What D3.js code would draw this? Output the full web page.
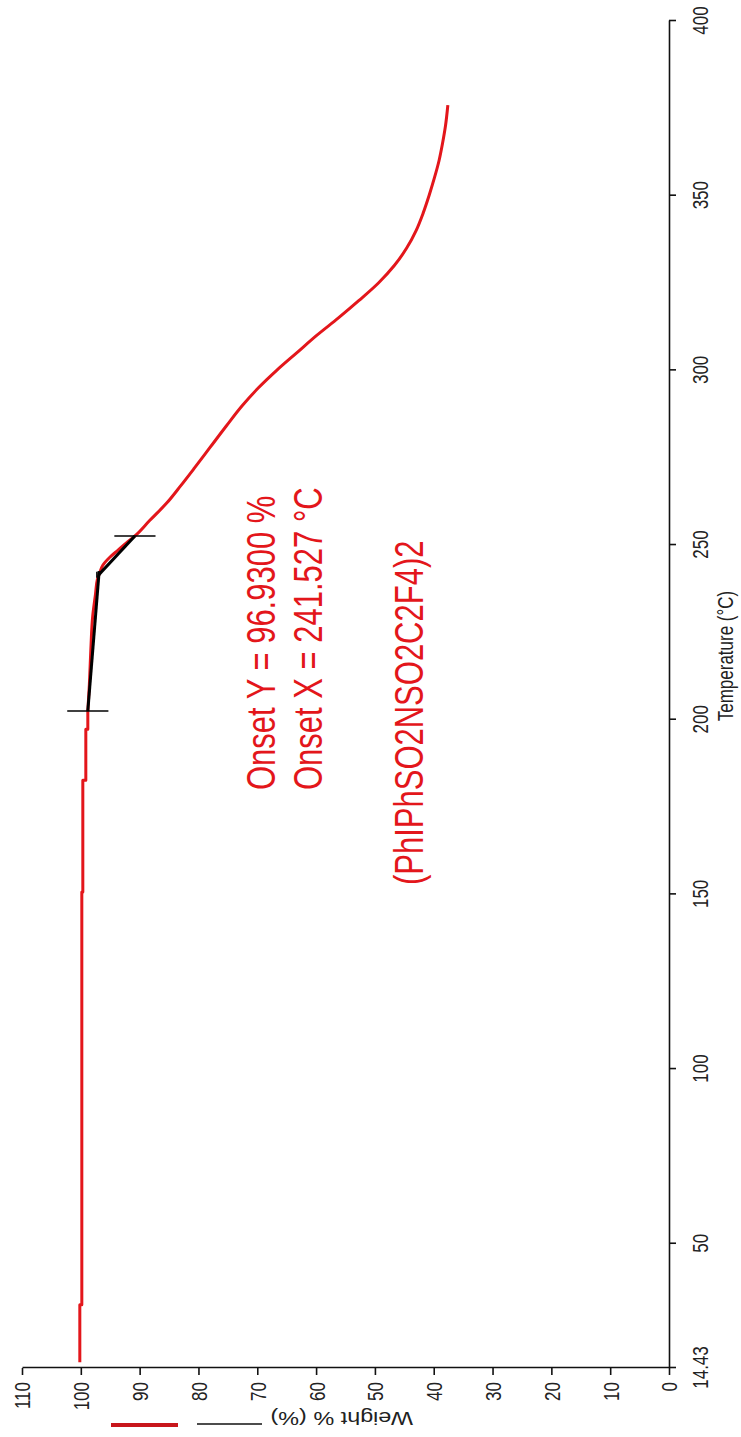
<!DOCTYPE html>
<html>
<head>
<meta charset="utf-8">
<script src="https://cdn.jsdelivr.net/npm/d3@7"></script>
<style>
  html, body { margin: 0; padding: 0; background: #fff; }
  svg { display: block; font-family: "Liberation Sans", Arial, sans-serif; }
</style>
</head>
<body>
<svg id="chart" width="741" height="1437"></svg>
<script>
// Thermogravimetric trace: remaining weight (%) against temperature (°C)
// Stepped low-temperature plateau
const plateauTemps = [16.1, 32.5, 32.5, 150.7, 150.7, 182.7, 182.7, 197.3, 197.3, 202.5];
const plateauWeights = [100.17, 100.17, 99.83, 99.83, 99.66, 99.66, 99.15, 99.15, 98.81, 98.81];
// Decomposition region
const lossTemps = [202.5, 210, 220, 230, 236, 240, 242, 244.2, 246.5, 248.5, 250.5, 252.6,
  257, 262, 267, 272, 278, 284, 290, 295, 300, 305, 310, 315, 320, 325,
  330, 335, 340, 345, 350, 355, 360, 365, 370, 375.9];
const lossWeights = [98.81, 98.55, 98.3, 97.96, 97.5, 97.2, 96.8, 96.26, 95.07, 93.7, 92.35, 90.8,
  88.3, 85.4, 83.0, 80.7, 78.0, 75.3, 72.5, 69.8, 66.7, 63.3, 59.9, 56.2, 52.7, 49.4,
  46.7, 44.6, 43.0, 41.8, 40.8, 39.9, 39.1, 38.5, 38.0, 37.6];

// Onset construction
const onsetTemp = 241.527;
const onsetWeight = 96.93;
const baselineTemps = [202.5, 242.5];
const baselineWeights = [98.81, 96.88];
const stepTemps = [241.527, 252.6];
const stepWeights = [96.93, 90.8];
const cursorTemps = [202.5, 252.6];
const cursorWeights = [98.81, 90.8];

const tempTicks = [14.43, 50, 100, 150, 200, 250, 300, 350, 400];
const weightTicks = [0, 10, 20, 30, 40, 50, 60, 70, 80, 90, 100, 110];

const annotationLines = ["Onset Y = 96.9300 %", "Onset X = 241.527 \u00B0C", "(PhIPhSO2NSO2C2F4)2"];
const tempTitle = "Temperature (\u00B0C)";
const weightTitle = "Weight % (%)";

const RED = "#e3161b";
const STRETCH = 1.3; // glyphs are drawn taller than wide

const svg = d3.select("#chart");
// The plot is laid out landscape and turned a quarter turn anticlockwise onto the page
const g = svg.append("g").attr("transform", "translate(0,1437) rotate(-90)");

const x = d3.scaleLinear().domain([14.43, 400]).range([69, 1416]);
const y = d3.scaleLinear().domain([0, 110]).range([669, 22]);

// Temperature axis
const xAxis = d3.axisBottom(x)
  .tickValues(tempTicks)
  .tickFormat(d => d === 14.43 ? "14.43" : d3.format("d")(d))
  .tickSize(7)
  .tickSizeOuter(0);
const gx = g.append("g").attr("transform", `translate(0,${y(0)})`).call(xAxis);
gx.selectAll("text")
  .attr("y", 30).attr("dy", 0)
  .attr("transform", `scale(1,${STRETCH})`)
  .attr("font-size", 17)
  .attr("fill", "#222");

// Weight axis
const yAxis = d3.axisLeft(y)
  .tickValues(weightTicks)
  .tickSize(7)
  .tickSizeOuter(0);
const gy = g.append("g").attr("transform", `translate(${x(14.43)},0)`).call(yAxis);
gy.selectAll("text")
  .attr("x", -14).attr("dy", "0.358em")
  .attr("transform", `scale(1,${STRETCH})`)
  .attr("font-size", 17)
  .attr("fill", "#222");

g.selectAll(".domain, .tick line").attr("stroke", "#111").attr("stroke-width", 1.6);

// Axis titles
g.append("text")
  .attr("transform", `translate(${1437 - 656},733) scale(1,${STRETCH})`)
  .attr("text-anchor", "middle")
  .attr("font-size", 17)
  .attr("fill", "#222")
  .text(tempTitle);

g.append("text")
  .attr("transform", `translate(25,413) scale(1,${STRETCH}) rotate(-90)`)
  .attr("text-anchor", "start")
  .attr("font-size", 18)
  .attr("fill", "#222")
  .text(weightTitle);

// Legend swatches beside the weight title
g.append("line")
  .attr("x1", 12).attr("x2", 12).attr("y1", 111).attr("y2", 178)
  .attr("stroke", "#c8161c").attr("stroke-width", 4);
g.append("line")
  .attr("x1", 13).attr("x2", 13).attr("y1", 197).attr("y2", 262)
  .attr("stroke", "#111").attr("stroke-width", 1.5);

// Weight curve
const line = d3.line().x(d => x(d[0])).y(d => y(d[1]));
const smoothLine = d3.line().x(d => x(d[0])).y(d => y(d[1])).curve(d3.curveMonotoneX);
g.append("path")
  .datum(d3.zip(plateauTemps, plateauWeights))
  .attr("d", line)
  .attr("fill", "none")
  .attr("stroke", RED)
  .attr("stroke-width", 3)
  .attr("stroke-linejoin", "round");
g.append("path")
  .datum(d3.zip(lossTemps, lossWeights))
  .attr("d", smoothLine)
  .attr("fill", "none")
  .attr("stroke", RED)
  .attr("stroke-width", 3)
  .attr("stroke-linejoin", "round");

// Onset tangents
g.append("path")
  .datum(d3.zip(baselineTemps, baselineWeights))
  .attr("d", line)
  .attr("fill", "none").attr("stroke", "#000").attr("stroke-width", 3);
g.append("path")
  .datum(d3.zip(stepTemps, stepWeights))
  .attr("d", line)
  .attr("fill", "none").attr("stroke", "#000").attr("stroke-width", 3);

// Cursor marks at the ends of the fitted range
g.selectAll(".cursor")
  .data(d3.zip(cursorTemps, cursorWeights))
  .join("line")
  .attr("class", "cursor")
  .attr("x1", d => x(d[0])).attr("x2", d => x(d[0]))
  .attr("y1", d => y(d[1] + 3.5)).attr("y2", d => y(d[1] - 3.5))
  .attr("stroke", "#000").attr("stroke-width", 1.5);

// Small mark at the onset point
g.append("line")
  .attr("x1", x(onsetTemp) - 3).attr("x2", x(onsetTemp) + 3)
  .attr("y1", y(onsetWeight) - 2).attr("y2", y(onsetWeight) - 2)
  .attr("stroke", "#000").attr("stroke-width", 1.5);

// Annotations
const annotationPos = [[647, 275], [647, 322], [552, 423]];
g.selectAll(".note")
  .data(annotationLines)
  .join("text")
  .attr("class", "note")
  .attr("transform", (d, i) => `translate(${annotationPos[i][0]},${annotationPos[i][1]}) scale(1,${STRETCH})`)
  .attr("font-size", 31)
  .attr("fill", RED)
  .text(d => d);
</script>
</body>
</html>
